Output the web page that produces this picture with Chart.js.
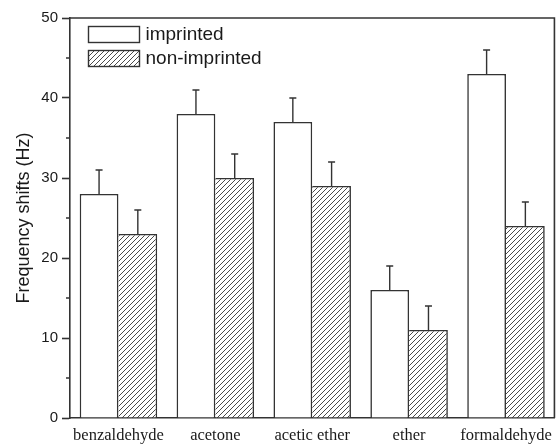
<!DOCTYPE html>
<html><head><meta charset="utf-8">
<script src="https://cdn.jsdelivr.net/npm/chart.js@4.4.1/dist/chart.umd.min.js"></script>
<style>html,body{margin:0;padding:0;background:#fff}canvas{display:block}</style>
</head><body>
<canvas id="c" width="560" height="445"></canvas>
<script>
// Frequency shifts of imprinted vs non-imprinted films for five vapours
const categories = ['benzaldehyde', 'acetone', 'acetic ether', 'ether', 'formaldehyde'];
const imprinted = [28, 38, 37, 16, 43];
const imprintedErr = [3, 3, 3, 3, 3];
const nonImprinted = [23, 30, 29, 11, 24];
const nonImprintedErr = [3, 3, 3, 3, 3];
const yTicks = [0, 10, 20, 30, 40, 50];
const yMinorTicks = [5, 15, 25, 35, 45];

const INK = '#333';
const canvas = document.getElementById('c');
const ctx0 = canvas.getContext('2d');

// diagonal "////" hatch fill
function hatch() {
  const s = 5, c = document.createElement('canvas');
  c.width = s; c.height = s;
  const g = c.getContext('2d');
  g.fillStyle = '#fff'; g.fillRect(0, 0, s, s);
  g.strokeStyle = '#4a4a4a'; g.lineWidth = 1;
  g.beginPath();
  g.moveTo(-1, s + 1); g.lineTo(s + 1, -1);
  g.moveTo(-1, 1); g.lineTo(1, -1);
  g.moveTo(s - 1, s + 1); g.lineTo(s + 1, s - 1);
  g.stroke();
  return ctx0.createPattern(c, 'repeat');
}
const hatchFill = hatch();

// upward error bars with caps
const errorBars = {
  id: 'errorBars',
  afterDatasetsDraw(chart) {
    const { ctx, scales: { y } } = chart;
    ctx.save();
    ctx.strokeStyle = INK; ctx.lineWidth = 1.4;
    chart.data.datasets.forEach((ds, i) => {
      chart.getDatasetMeta(i).data.forEach((bar, j) => {
        const v = ds.data[j], e = ds.errors[j];
        const yv = y.getPixelForValue(v), ye = y.getPixelForValue(v + e);
        ctx.beginPath();
        ctx.moveTo(bar.x, yv); ctx.lineTo(bar.x, ye);
        ctx.moveTo(bar.x - 3.5, ye); ctx.lineTo(bar.x + 3.5, ye);
        ctx.stroke();
      });
    });
    ctx.restore();
  }
};

// closed frame + minor y ticks
const frame = {
  id: 'frame',
  afterDraw(chart) {
    const { ctx, chartArea: a, scales: { y } } = chart;
    ctx.save();
    ctx.strokeStyle = INK; ctx.lineWidth = 1.6;
    ctx.beginPath();
    ctx.moveTo(a.left, a.top); ctx.lineTo(a.right, a.top); ctx.lineTo(a.right, a.bottom);
    yMinorTicks.forEach(v => {
      const py = y.getPixelForValue(v);
      ctx.moveTo(a.left - 4, py); ctx.lineTo(a.left, py);
    });
    ctx.stroke();
    ctx.restore();
  }
};

// legend inside the plot, stacked
const boxLegend = {
  id: 'boxLegend',
  afterDraw(chart) {
    const { ctx, chartArea: a } = chart;
    ctx.save();
    ctx.font = '19px "Liberation Sans", Arial, sans-serif';
    ctx.textBaseline = 'middle';
    chart.data.datasets.forEach((ds, i) => {
      const x = a.left + 18.5, y = a.top + 8.5 + i * 24;
      ctx.fillStyle = ds.backgroundColor;
      ctx.fillRect(x, y, 51, 16);
      ctx.strokeStyle = INK; ctx.lineWidth = 1.4;
      ctx.strokeRect(x, y, 51, 16);
      ctx.fillStyle = '#1a1a1a';
      ctx.fillText(ds.label, x + 57, y + 8.5);
    });
    ctx.restore();
  }
};

new Chart(canvas, {
  type: 'bar',
  data: {
    labels: categories,
    datasets: [
      { label: 'imprinted', data: imprinted, errors: imprintedErr,
        backgroundColor: '#fff', borderColor: INK,
        borderWidth: { left: 1.6, top: 1.6, right: 1.6, bottom: 0 } },
      { label: 'non-imprinted', data: nonImprinted, errors: nonImprintedErr,
        backgroundColor: hatchFill, borderColor: INK,
        borderWidth: { left: 0, top: 1.6, right: 1.6, bottom: 0 } }
    ]
  },
  options: {
    responsive: false,
    animation: false,
    layout: { padding: { top: 18, right: 2, left: 0, bottom: 0 } },
    datasets: { bar: { categoryPercentage: 0.8, barPercentage: 1.0, borderSkipped: false } },
    plugins: { legend: { display: false }, tooltip: { enabled: false } },
    scales: {
      x: {
        grid: { display: false, drawTicks: false },
        border: { display: true, color: INK, width: 1.6 },
        ticks: { color: '#1a1a1a', padding: 8, maxRotation: 0, autoSkip: false,
                 font: { family: '"Liberation Serif", "Times New Roman", serif', size: 16.5 } },
        afterFit(s) { s.height = 27; }
      },
      y: {
        min: 0, max: 50,
        afterBuildTicks(s) { s.ticks = yTicks.map(v => ({ value: v })); },
        grid: { drawOnChartArea: false, drawTicks: true, tickLength: 8, tickColor: INK, tickWidth: 1.6 },
        border: { display: true, color: INK, width: 1.6 },
        ticks: { color: '#1a1a1a', padding: 4,
                 font: { family: '"Liberation Sans", Arial, sans-serif', size: 15 } },
        title: { display: true, text: 'Frequency shifts (Hz)', color: '#1a1a1a',
                 padding: { top: 13, bottom: 0 },
                 font: { family: '"Liberation Sans", Arial, sans-serif', size: 18 } },
        afterFit(s) { s.width = 70; }
      }
    }
  },
  plugins: [errorBars, frame, boxLegend]
});
</script>
</body></html>
